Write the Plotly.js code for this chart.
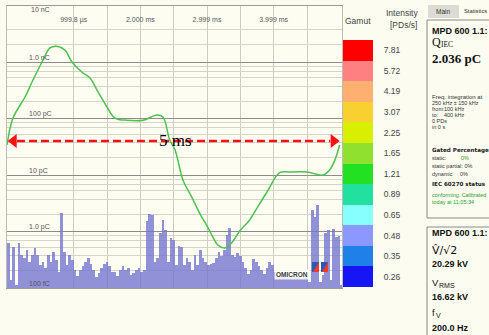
<!DOCTYPE html>
<html><head><meta charset="utf-8">
<script src="https://cdn.plot.ly/plotly-3.0.1.min.js"></script>
<style>html,body{margin:0;padding:0;background:#fcfcf0;overflow:hidden;} #chart{width:489px;height:335px;}</style>
</head><body><div id="chart"></div>
<script>
// ---- data ----
// green curve: charge (pC) vs time (ms)
const curveTimeMs = [0, 0.09, 0.27, 0.39, 0.525, 0.645, 0.75, 0.87, 0.975, 1.125, 1.245, 1.365, 1.5, 1.62, 1.8, 2.04, 2.25, 2.34, 2.44, 2.52, 2.64, 2.77, 2.89, 3.01, 3.09, 3.16, 3.27, 3.37, 3.49, 3.64, 3.75, 3.9, 4.09, 4.24, 4.5, 4.74, 4.84, 4.92, 4.99];
const curveChargePC = [34, 102, 240, 480, 1000, 1780, 1900, 1620, 1000, 660, 520, 295, 160, 102, 93, 93, 115, 106, 42, 28, 8.1, 4.1, 2.1, 1.2, 0.79, 0.58, 0.51, 0.63, 1.02, 1.6, 2.6, 5.0, 11, 11.3, 11.3, 10, 12.3, 18.6, 34];
// PD pulse spectrum (pC), one value per time bin
const BIN_START_MS = 0.02, BIN_MS = 0.04;
const pdChargePC = [0.63,0.139,0.53,0.113,0.63,0.38,0.34,0.47,0.29,0.38,
 0.51,0.38,0.255,0.29,0.226,0.38,0.29,0.43,0.31,0.192,
 2.12,0.43,0.255,0.38,0.31,0.208,0.163,0.208,0.245,0.29,
 0.34,0.27,0.208,0.157,0.184,0.226,0.27,0.29,0.245,0.192,
 0.192,0.163,0.208,0.245,0.208,0.226,0.170,0.184,0.208,0.226,
 0.192,0.208,1.53,2.04,1.96,0.29,0.34,0.94,1.60,1.06,
 0.29,0.77,0.71,0.255,0.55,0.53,0.255,0.34,0.29,0.208,
 0.38,0.255,0.47,0.34,0.29,0.255,0.27,0.28,0.34,0.43,
 0.37,0.47,0.87,1.15,0.38,0.35,0.42,0.37,0.29,0.226,
 0.177,0.208,0.33,0.29,0.245,0.208,0.177,0.226,0.29,0.255,
 0.192,0.170,0.184,0.163,0.177,0.157,0.163,0.150,0.163,0.157,
 0.144,0.163,0.150,0.128,2.40,1.81,2.94,0.128,0.170,0.94,
 1.06,0.139,1.10,0.80,0.83,0.113];
// axis ticks
const xTickVals = [1, 2, 3, 4];
const xTickText = ['999.8 µs', '2.000 ms', '2.999 ms', '3.999 ms'];
const xHalfGridVals = [0.5, 1.5, 2.5, 3.5, 4.5];
const yDecadeVals = [10000, 1000, 100, 10, 1, 0.1];
const yDecadeText = ['10 nC', '1.0 nC', '100 pC', '10 pC', '1.0 pC', '100 fC'];
const yMinorFactors = [2, 3.7, 5.3, 6.8, 8.4];
// gamut legend
const gamutLabels = ['0.26','0.35','0.48','0.65','0.89','1.21','1.65','2.25','3.07','4.19','5.72','7.81'];
const gamutColors = ['#1616f4','#1e80e8','#8a98ff','#88ffff','#22e0a0','#22e022','#90e030','#d8f000','#f8d030','#ffb070','#ff8080','#ff0000'];
// 5 ms marker
const arrowSpanMs = [0, 5.0];
const arrowHeadMs = [0.1, 4.9];
const arrowLevelPC = 40;
const arrowText = '5 ms';

// ---- build ----
const W = 489, H = 335;
const PX = v => v / W, PY = v => 1 - v / H;

const yMinorVals = [];
yDecadeVals.forEach(d => { if (d < 10000) yMinorFactors.forEach(f => yMinorVals.push(d * f)); });

const traces = [];
traces.push({
  type: 'bar', x0: BIN_START_MS, dx: BIN_MS, y: pdChargePC, width: BIN_MS,
  marker: {color: 'rgba(118,118,208,0.8)', line: {width: 0}},
  xaxis: 'x', yaxis: 'y', hoverinfo: 'skip'
});
traces.push({
  type: 'scatter', mode: 'lines', x: curveTimeMs, y: curveChargePC,
  line: {color: '#4cc24c', width: 1.5, shape: 'spline', smoothing: 1},
  xaxis: 'x', yaxis: 'y', hoverinfo: 'skip'
});
traces.push({
  type: 'scatter', mode: 'lines', x: [arrowSpanMs[0] + 0.15, arrowSpanMs[1] - 0.15], y: [arrowLevelPC, arrowLevelPC],
  line: {color: '#ff1010', width: 2.5, dash: '8px,4px'}, xaxis: 'x', yaxis: 'y', hoverinfo: 'skip'
});
traces.push({
  type: 'scatter', mode: 'markers', x: arrowHeadMs, y: [arrowLevelPC, arrowLevelPC], cliponaxis: false,
  marker: {symbol: ['triangle-left', 'triangle-right'], size: 12, color: '#ff1010', line: {width: 0}},
  xaxis: 'x', yaxis: 'y', hoverinfo: 'skip'
});
// gamut as heatmap
const nG = gamutLabels.length;
const cs = [];
gamutColors.forEach((c, i) => { cs.push([i / nG, c]); cs.push([(i + 1) / nG, c]); });
traces.push({
  type: 'heatmap', x: [0], y: gamutLabels, z: gamutLabels.map((_, i) => [i]),
  zmin: -0.5, zmax: nG - 0.5, colorscale: cs, showscale: false,
  xaxis: 'x2', yaxis: 'y2', hoverinfo: 'skip'
});

const gridFont = {family: 'Liberation Sans, Arial, sans-serif', size: 7, color: '#555'};
const ann = [];
// top decade label sits just below the frame; the other decades are axis tick labels
ann.push({xref: 'x', yref: 'y', x: 0.5, y: Math.log10(yDecadeVals[0]), yshift: -4,
  text: yDecadeText[0], showarrow: false, font: gridFont, xanchor: 'center', yanchor: 'middle'});
const ly = Math.log10(arrowLevelPC);
ann.push({xref: 'x', yref: 'y', x: 2.52, y: ly, text: arrowText, showarrow: false,
  font: {family: 'Liberation Serif, Times New Roman, serif', size: 17, color: '#000'}, xanchor: 'center', yanchor: 'middle'});
ann.push({xref: 'paper', yref: 'paper', x: PX(274), y: PY(274), text: '<b>OMICRON</b>', showarrow: false,
  font: {family: 'Liberation Sans, Arial, sans-serif', size: 6.5, color: '#3a3a3a'}, xanchor: 'left', yanchor: 'middle',
  bgcolor: 'rgba(255,255,250,0.85)', borderpad: 1});

function txt(x, y, t, size, opts) {
  opts = opts || {};
  ann.push({xref: 'paper', yref: 'paper', x: PX(x), y: PY(y), text: t, showarrow: false,
    xanchor: opts.anchor || 'left', yanchor: 'middle',
    font: {family: opts.family || 'Liberation Sans, Arial, sans-serif', size: size, color: opts.color || '#222'}});
}
txt(358, 21, 'Gamut', 8.5, {anchor: 'center', color: '#444'});
txt(402, 13, 'Intensity', 8.5, {anchor: 'center', color: '#444'});
txt(403, 25, '[PDs/s]', 8.5, {anchor: 'center', color: '#444'});
txt(443, 11, 'Main', 6.5, {anchor: 'center', color: '#333'});
txt(462, 11, 'Statistics', 5.8, {color: '#333'});
// box 1
txt(430, 31, '<b>MPD 600 1.1:</b>', 9, {color: '#111'});
txt(430, 42, 'Q', 12, {family: 'Liberation Serif, serif', color: '#111'});
txt(439, 45, 'IEC', 7.5, {family: 'Liberation Serif, serif', color: '#111'});
txt(430, 58, '<b>2.036 pC</b>', 13, {family: 'Liberation Serif, serif', color: '#111'});
const g = '#2aa02a';
txt(430, 97, 'Freq. integration at', 6, {color: '#333'});
txt(430, 103, '250 kHz ± 150 kHz', 5.5, {color: '#333'});
txt(430, 109, 'from:', 5.5, {color: '#333'});
txt(442, 109, '100 kHz', 5.5, {color: '#333'});
txt(430, 115, 'to:', 5.5, {color: '#333'});
txt(442, 115, '400 kHz', 5.5, {color: '#333'});
txt(430, 121, '0 PDs', 5.5, {color: '#333'});
txt(430, 127, 'in 0 s', 5.5, {color: '#333'});
txt(430, 150, '<b>Gated Percentage</b>', 5.6, {family: 'DejaVu Sans, sans-serif', color: '#222'});
txt(430, 158, 'static:', 5.5, {color: '#333'});
txt(459, 158, '0%', 5.5, {color: g});
txt(430, 166, 'static partial: 0%', 5.5, {color: '#333'});
txt(430, 174, 'dynamic', 5.5, {color: '#333'});
txt(458, 174, '0%', 5.5, {color: '#333'});
txt(430, 184, '<b>IEC 60270 status</b>', 5.6, {family: 'DejaVu Sans, sans-serif', color: '#222'});
txt(430, 195, 'conforming. Calibrated', 5.4, {color: g});
txt(430, 202, 'today at 11:05:34', 5.5, {color: g});
// box 2
txt(430, 233, '<b>MPD 600 1.1:</b>', 9, {color: '#111'});
txt(430, 250, 'V\u0302/\u221A2', 11, {family: 'DejaVu Sans, sans-serif', color: '#111'});
txt(430, 264, '<b>20.29 kV</b>', 9, {color: '#111'});
txt(430, 282, 'V', 9.5, {color: '#111'});
txt(437, 285, 'RMS', 7, {color: '#111'});
txt(430, 297, '<b>16.62 kV</b>', 9, {color: '#111'});
txt(430, 312, 'f', 9.5, {color: '#111'});
txt(434, 315, 'V', 7, {color: '#111'});
txt(430, 328, '<b>200.0 Hz</b>', 9, {color: '#111'});

const shapes = [
  {type: 'rect', xref: 'paper', yref: 'paper', x0: PX(428), x1: PX(459), y0: PY(18), y1: PY(5), fillcolor: '#dcdcd4', line: {width: 0}, layer: 'below'},
  {type: 'rect', xref: 'paper', yref: 'paper', x0: PX(427), x1: PX(496), y0: PY(218), y1: PY(20), line: {color: '#8a8a8a', width: 1}},
  {type: 'rect', xref: 'paper', yref: 'paper', x0: PX(427), x1: PX(496), y0: PY(345), y1: PY(227), line: {color: '#8a8a8a', width: 1}},
  // logo
  {type: 'rect', xref: 'paper', yref: 'paper', x0: PX(312), x1: PX(319), y0: PY(272), y1: PY(262), fillcolor: '#2a5cb0', line: {width: 0}},
  {type: 'rect', xref: 'paper', yref: 'paper', x0: PX(321), x1: PX(328), y0: PY(272), y1: PY(262), fillcolor: '#2a5cb0', line: {width: 0}},
  {type: 'path', xref: 'paper', yref: 'paper', path: `M${PX(319)},${PY(262)} L${PX(319)},${PY(272)} L${PX(313)},${PY(272)} Z`, fillcolor: '#f03a2a', line: {width: 0}},
  {type: 'path', xref: 'paper', yref: 'paper', path: `M${PX(328)},${PY(262)} L${PX(328)},${PY(272)} L${PX(322)},${PY(272)} Z`, fillcolor: '#f03a2a', line: {width: 0}}
];

const layout = {
  width: W, height: H, margin: {l: 0, r: 0, t: 0, b: 0},
  paper_bgcolor: '#fcfcf0', plot_bgcolor: '#fdfdf2', showlegend: false, bargap: 0,
  xaxis: {domain: [PX(7), PX(342)], range: [0, 5.025], side: 'top', tickmode: 'array', tickvals: xTickVals, ticktext: xTickText,
    ticklabelposition: 'inside', ticklabelstandoff: 10, ticks: '', tickfont: gridFont, showgrid: true, gridcolor: '#cdcdc2', gridwidth: 1,
    minor: {tickmode: 'array', tickvals: xHalfGridVals, showgrid: true, gridcolor: '#cdcdc2', gridwidth: 1, ticks: ''},
    showline: true, linecolor: '#9a9a9a', mirror: true, zeroline: false, fixedrange: true},
  yaxis: {domain: [PY(288), PY(5.5)], type: 'log', range: [-1, 4], tickmode: 'array',
    tickvals: yDecadeVals.slice(1), ticktext: yDecadeText.slice(1),
    ticklabelposition: 'inside top', ticklabelstandoff: 20, tickfont: gridFont,
    ticks: '', showgrid: true, gridcolor: '#8c8c8c', gridwidth: 1,
    minor: {tickmode: 'array', tickvals: yMinorVals, showgrid: true, gridcolor: '#d4d4ca', gridwidth: 1, ticks: ''},
    showline: true, linecolor: '#bdbdb4', mirror: true, zeroline: false, fixedrange: true},
  xaxis2: {domain: [PX(343), PX(373)], anchor: 'y2', visible: false, fixedrange: true},
  yaxis2: {domain: [PY(287), PY(40)], anchor: 'x2', type: 'category', side: 'right', showgrid: false, zeroline: false, showline: false,
    ticks: 'outside', ticklen: 8, tickcolor: 'rgba(0,0,0,0)', tickfont: {family: 'Liberation Sans, Arial, sans-serif', size: 8.5, color: '#444'}, fixedrange: true},
  annotations: ann, shapes: shapes
};
Plotly.newPlot('chart', traces, layout, {staticPlot: true, displayModeBar: false});
</script></body></html>
